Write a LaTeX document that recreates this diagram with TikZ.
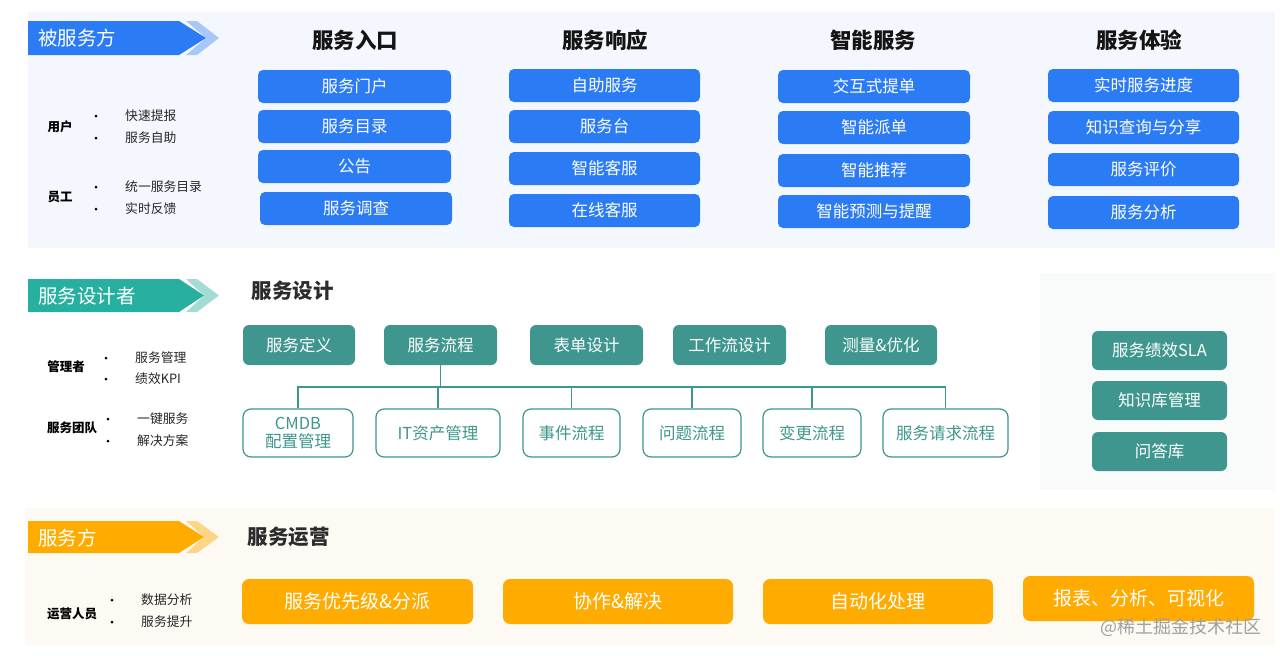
\documentclass[tikz,border=0pt]{standalone}
\usepackage{fontspec}
\setmainfont{Noto Sans CJK SC}
\definecolor{cBlue}{HTML}{2B7BF5}
\definecolor{cBlueL}{HTML}{A8C7F9}
\definecolor{cTopBg}{HTML}{F4F8FE}
\definecolor{cTealBan}{HTML}{27B0A0}
\definecolor{cTealL}{HTML}{A3DCD4}
\definecolor{cTeal}{HTML}{3E968E}
\definecolor{cRightBg}{HTML}{F9FBFB}
\definecolor{cOrange}{HTML}{FFAB00}
\definecolor{cOrangeL}{HTML}{FDD587}
\definecolor{cBotBg}{HTML}{FDFAF4}
\definecolor{cHead}{HTML}{141414}
\definecolor{cWater}{HTML}{A0A0A0}
\tikzset{
  bluebox/.style={fill=cBlue, rounded corners=5pt, text=white, inner sep=0pt, minimum height=33pt, font=\fontsize{16.5}{18}\selectfont},
  tealbox/.style={fill=cTeal, rounded corners=6pt, text=white, inner sep=0pt, minimum height=40pt, font=\fontsize{16.5}{18}\selectfont},
  childbox/.style={draw=cTeal, line width=1.2pt, fill=white, rounded corners=8pt, text=cTeal, inner sep=0pt, minimum height=48pt, align=center, font=\fontsize{16.5}{19}\selectfont},
  sidebox/.style={fill=cTeal, rounded corners=6pt, text=white, inner sep=0pt, minimum width=135pt, minimum height=39pt, font=\fontsize{16.5}{18}\selectfont},
  orbox/.style={fill=cOrange, rounded corners=7pt, text=white, inner sep=0pt, minimum height=45pt, font=\fontsize{19}{21}\selectfont},
  colhead/.style={text=cHead, font=\fontsize{21.5}{24}\selectfont\bfseries},
  sechead/.style={text=cHead!90, anchor=west, font=\fontsize{20.5}{24}\selectfont\bfseries},
  bantext/.style={text=white, anchor=west, inner sep=0pt, font=\fontsize{19.5}{22}\selectfont},
  who/.style={text=black, font=\fontsize{12.5}{14}\selectfont\bfseries},
  item/.style={text=black!85, anchor=west, inner sep=0pt, font=\fontsize{12.8}{14}\selectfont},
  tree/.style={draw=cTeal, line width=1.3pt},
}
\newcommand{\bannerdraw}[5]{% top, bottom, main color, light color, tip
  \pgfmathsetmacro{\mid}{(#1+#2)/2}
  \fill[#4] (186,#1) -- (197,#1) -- (219,\mid) -- (197,#2) -- (186,#2) -- (#5,\mid) -- cycle;
  \fill[#3] (28,#1) -- (179,#1) -- (#5,\mid) -- (179,#2) -- (28,#2) -- cycle;
}
\newcommand{\bul}[2]{\fill[black] (#1,#2) circle (1.5pt);}
\begin{document}
\begin{tikzpicture}[x=1pt,y=-1pt]
\useasboundingbox (0,0) rectangle (1280,656);
\fill[white] (0,0) rectangle (1280,656);
% panels
\fill[cTopBg] (28,12) rectangle (1275,248);
\fill[cRightBg] (1040,273) rectangle (1275,490);
\fill[cBotBg] (25,508) rectangle (1275,645);

% banners
\bannerdraw{21}{55}{cBlue}{cBlueL}{206}
\bannerdraw{279}{312}{cTealBan}{cTealL}{204}
\bannerdraw{521}{553}{cOrange}{cOrangeL}{204}
\node[bantext] (ban1) at (38,38) {被服务方};
\node[bantext] (ban2) at (38,296) {服务设计者};
\node[bantext] (ban3) at (38,538) {服务方};

% left descriptions: top
\node[who] (w1) at (60,127) {用户};
\bul{96}{116}\bul{96}{138}
\node[item] (w1a) at (125,116) {快速提报};
\node[item] (w1b) at (125,138) {服务自助};
\node[who] (w2) at (60,197) {员工};
\bul{96}{187}\bul{96}{209}
\node[item] (w2a) at (125,187) {统一服务目录};
\node[item] (w2b) at (125,209) {实时反馈};
% middle
\node[who] (w3) at (66,367) {管理者};
\bul{106}{358}\bul{106}{379}
\node[item] (w3a) at (135,358) {服务管理};
\node[item] (w3b) at (135,379) {绩效KPI};
\node[who] (w4) at (72,428) {服务团队};
\bul{108}{419}\bul{108}{441}
\node[item] (w4a) at (137,419) {一键服务};
\node[item] (w4b) at (137,441) {解决方案};
% bottom
\node[who] (w5) at (72,614) {运营人员};
\bul{112}{600}\bul{112}{622}
\node[item] (w5a) at (141,600) {数据分析};
\node[item] (w5b) at (141,622) {服务提升};

% column headers
\node[colhead] (h1) at (355,40) {服务入口};
\node[colhead] (h2) at (605,40) {服务响应};
\node[colhead] (h3) at (873,40) {智能服务};
\node[colhead] (h4) at (1139,40) {服务体验};

% top boxes
\node[bluebox, minimum width=193pt] (a1) at (354.5,86.5) {服务门户};
\node[bluebox, minimum width=193pt] (a2) at (354.5,126.5) {服务目录};
\node[bluebox, minimum width=193pt] (a3) at (354.5,166.5) {公告};
\node[bluebox, minimum width=192pt] (a4) at (356,208.5) {服务调查};

\node[bluebox, minimum width=191pt] (b1) at (604.5,85.5) {自助服务};
\node[bluebox, minimum width=191pt] (b2) at (604.5,126.5) {服务台};
\node[bluebox, minimum width=191pt] (b3) at (604.5,168.5) {智能客服};
\node[bluebox, minimum width=191pt] (b4) at (604.5,210.5) {在线客服};

\node[bluebox, minimum width=192pt] (c1) at (874,86.5) {交互式提单};
\node[bluebox, minimum width=192pt] (c2) at (874,127.5) {智能派单};
\node[bluebox, minimum width=192pt] (c3) at (874,170.5) {智能推荐};
\node[bluebox, minimum width=192pt] (c4) at (874,211.5) {智能预测与提醒};

\node[bluebox, minimum width=191pt] (d1) at (1143.5,85.5) {实时服务进度};
\node[bluebox, minimum width=191pt] (d2) at (1143.5,127.5) {知识查询与分享};
\node[bluebox, minimum width=191pt] (d3) at (1143.5,169.5) {服务评价};
\node[bluebox, minimum width=191pt] (d4) at (1143.5,212.5) {服务分析};

% design section
\node[sechead] (sd) at (248,291) {服务设计};
\node[tealbox, minimum width=112pt] (p1) at (299,345) {服务定义};
\node[tealbox, minimum width=113pt] (p2) at (440.5,345) {服务流程};
\node[tealbox, minimum width=113pt] (p3) at (586.5,345) {表单设计};
\node[tealbox, minimum width=113pt] (p4) at (729.5,345) {工作流设计};
\node[tealbox, minimum width=112pt] (p5) at (881,345) {测量\&优化};

\node[childbox, minimum width=110pt] (k1) at (298,433) {CMDB\\[-1pt]配置管理};
\node[childbox, minimum width=124pt] (k2) at (438,433) {IT资产管理};
\node[childbox, minimum width=97pt] (k3) at (571.5,433) {事件流程};
\node[childbox, minimum width=98pt] (k4) at (692,433) {问题流程};
\node[childbox, minimum width=98pt] (k5) at (812,433) {变更流程};
\node[childbox, minimum width=125pt] (k6) at (945.5,433) {服务请求流程};

\coordinate (bus) at (0,387);
\draw[tree] (p2.south) -- (p2.south |- bus);
\draw[tree] (k1.north) -- (k1.north |- bus) -- (k6.north |- bus) -- (k6.north);
\foreach \k in {k2,k3,k4,k5} \draw[tree] (\k.north) -- (\k.north |- bus);

% right side boxes
\node[sidebox] (s1) at (1159.5,350.5) {服务绩效SLA};
\node[sidebox] (s2) at (1159.5,400.5) {知识库管理};
\node[sidebox] (s3) at (1159.5,451.5) {问答库};

% operations section
\node[sechead] (so) at (244,537) {服务运营};
\node[orbox, minimum width=231pt] (o1) at (357.5,601.5) {服务优先级\&分派};
\node[orbox, minimum width=230pt] (o2) at (618,601.5) {协作\&解决};
\node[orbox, minimum width=230pt] (o3) at (878,601.5) {自动化处理};
\node[orbox, minimum width=231pt] (o4) at (1138.5,598.5) {报表、分析、可视化};

% watermark
\node[text=cWater, anchor=west, inner sep=0pt, font=\fontsize{18}{20}\selectfont] (wm) at (1100,627) {@稀土掘金技术社区};
\end{tikzpicture}
\end{document}
